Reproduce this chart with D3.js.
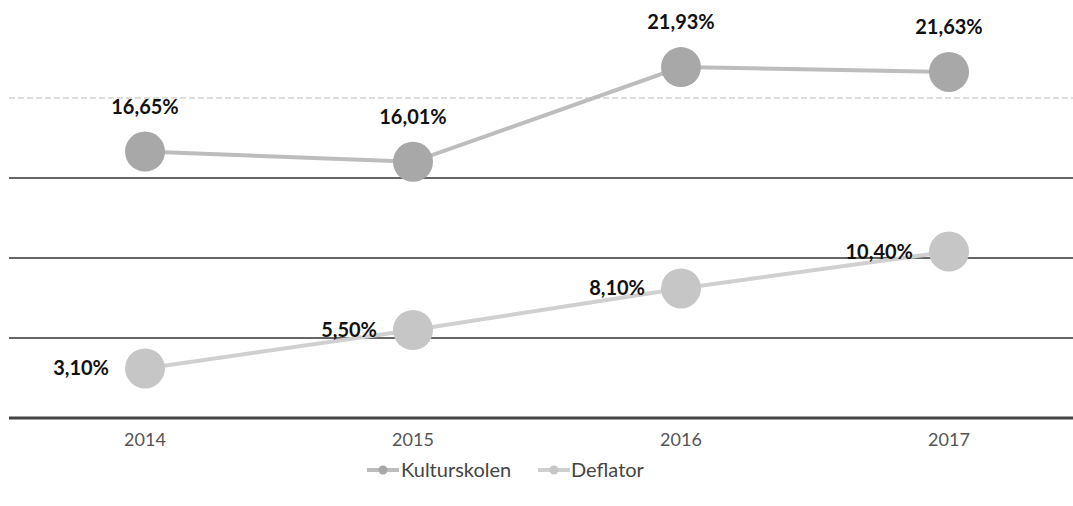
<!DOCTYPE html>
<html>
<head>
<meta charset="utf-8">
<script src="https://cdn.jsdelivr.net/npm/d3@7"></script>
<style>
  body { margin: 0; background: #fff; }
  svg { display: block; }
</style>
</head>
<body>
<div id="chart"></div>
<script>
const years = ["2014", "2015", "2016", "2017"];
const kulturskolen = [16.65, 16.01, 21.93, 21.63];
const deflator = [3.10, 5.50, 8.10, 10.40];
const gridValues = [5, 10, 15, 20];

const W = 1073, H = 506;
const margin = { top: 18, right: -10, bottom: 88, left: 11 };

const svg = d3.select("#chart").append("svg")
    .attr("width", W)
    .attr("height", H);

const x = d3.scalePoint()
    .domain(years)
    .range([margin.left, W - margin.right])
    .padding(0.5);

const y = d3.scaleLinear()
    .domain([0, 25])
    .range([H - margin.bottom, margin.top]);

const fmt = v => d3.format(".2f")(v).replace(".", ",") + "%";
const font = "Lato, 'Open Sans', sans-serif";

// gridlines
svg.append("g").selectAll("line")
    .data(gridValues)
    .join("line")
    .attr("x1", margin.left - 2)
    .attr("x2", W)
    .attr("y1", d => y(d))
    .attr("y2", d => y(d))
    .attr("stroke", d => d === 20 ? "#bbb" : "#333")
    .attr("stroke-width", d => d === 20 ? 1 : 1.3)
    .attr("stroke-dasharray", d => d === 20 ? "6,3" : null);

// x axis line
svg.append("line")
    .attr("x1", margin.left - 2)
    .attr("x2", W)
    .attr("y1", y(0))
    .attr("y2", y(0))
    .attr("stroke", "#444")
    .attr("stroke-width", 3);

// x axis labels
svg.append("g").selectAll("text")
    .data(years)
    .join("text")
    .attr("x", d => x(d))
    .attr("y", y(0) + 28)
    .attr("text-anchor", "middle")
    .attr("font-family", font)
    .attr("font-size", 18)
    .attr("fill", "#555")
    .text(d => d);

const series = [
    { name: "Kulturskolen", values: kulturskolen, line: "#bdbdbd", dot: "#a8a8a8" },
    { name: "Deflator", values: deflator, line: "#d0d0d0", dot: "#c6c6c6" }
];

const line = d3.line()
    .x((d, i) => x(years[i]))
    .y(d => y(d));

series.forEach((s, si) => {
    svg.append("path")
        .datum(s.values)
        .attr("d", line)
        .attr("fill", "none")
        .attr("stroke", s.line)
        .attr("stroke-width", 4);

    svg.append("g").selectAll("circle")
        .data(s.values)
        .join("circle")
        .attr("cx", (d, i) => x(years[i]))
        .attr("cy", d => y(d))
        .attr("r", 20)
        .attr("fill", s.dot);

    svg.append("g").selectAll("text")
        .data(s.values)
        .join("text")
        .attr("x", (d, i) => si === 0 ? x(years[i]) : x(years[i]) - 36)
        .attr("y", d => si === 0 ? y(d) - 38 : y(d) + 7)
        .attr("text-anchor", si === 0 ? "middle" : "end")
        .attr("font-family", font)
        .attr("font-weight", "bold")
        .attr("font-size", 20)
        .attr("fill", "#111")
        .text(d => fmt(d));
});

// legend
const legend = svg.append("g").attr("transform", "translate(0, 470)");
const legendItems = [
    { s: series[0], x0: 367, tx: 401 },
    { s: series[1], x0: 538, tx: 571 }
];
legendItems.forEach(item => {
    legend.append("line")
        .attr("x1", item.x0)
        .attr("x2", item.x0 + 32)
        .attr("y1", 0).attr("y2", 0)
        .attr("stroke", item.s.line)
        .attr("stroke-width", 4);
    legend.append("circle")
        .attr("cx", item.x0 + 16)
        .attr("cy", 0)
        .attr("r", 4.5)
        .attr("fill", item.s.dot);
    legend.append("text")
        .attr("x", item.tx)
        .attr("y", 7)
        .attr("font-family", font)
        .attr("font-size", 20)
        .attr("fill", "#444")
        .text(item.s.name);
});
</script>
</body>
</html>
